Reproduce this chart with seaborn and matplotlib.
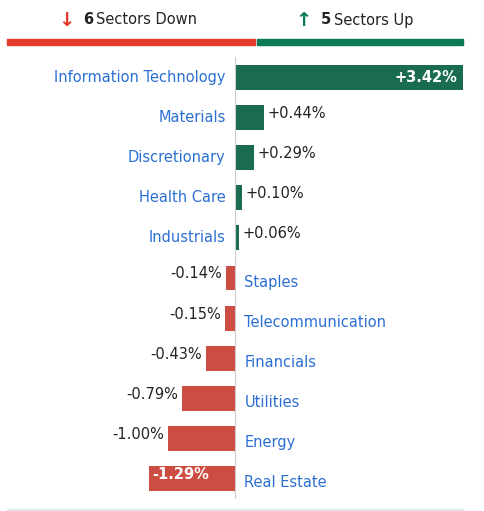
import matplotlib
matplotlib.use("Agg")
import matplotlib.pyplot as plt
import seaborn as sns
import pandas as pd
from matplotlib.patches import Rectangle

sectors = ["Information Technology", "Materials", "Discretionary", "Health Care", "Industrials",
           "Staples", "Telecommunication", "Financials", "Utilities", "Energy", "Real Estate"]
changes = [3.42, 0.44, 0.29, 0.10, 0.06, -0.14, -0.15, -0.43, -0.79, -1.00, -1.29]
down_count, up_count = 6, 5

GREEN = "#0b7a57"; RED = "#e4392b"; BLUE = "#2b6fd3"; DARK = "#222222"
df = pd.DataFrame({"sector": sectors, "change": changes})
df["c"] = ["up" if v > 0 else "down" for v in changes]

W, H = 484, 511
fig = plt.figure(figsize=(W/100, H/100), dpi=100)
ax = fig.add_axes([0, 1-499/H, 1, (499-57)/H])
sns.barplot(data=df, x="change", y="sector", hue="c", palette={"up": GREEN, "down": RED},
            orient="h", width=0.62, legend=False, ax=ax, dodge=False)
lim = 235/66.7
ax.set_xlim(-lim, (W-235)/66.7)
ax.set_ylim(10.5, -0.5)
ax.axis("off")
ax.axvline(0, color="#cccccc", lw=0.8, ymin=-0.02, ymax=1)

fs = 10.5
for i, (s, v) in enumerate(zip(sectors, changes)):
    lab = f"{v:+.2f}%"
    if v > 0:
        ax.text(-0.14, i, s, ha="right", va="center", color=BLUE, fontsize=fs)
        if v > 2:
            ax.text(v-0.08, i, lab, ha="right", va="center", color="white", fontsize=fs, fontweight="bold")
        else:
            ax.text(v+0.05, i-0.1, lab, ha="left", va="center", color=DARK, fontsize=fs)
    else:
        ax.text(0.14, i+0.1, s, ha="left", va="center", color=BLUE, fontsize=fs)
        if v < -1.1:
            ax.text(v+0.05, i-0.1, lab, ha="left", va="center", color="white", fontsize=fs, fontweight="bold")
        else:
            ax.text(v-0.06, i-0.1, lab, ha="right", va="center", color=DARK, fontsize=fs)

# header
fig.text(58/W, 1-20/H, "↓", color=RED, fontsize=14, fontweight="bold", va="center")
fig.text(83/W, 1-20/H, f"{down_count}", color=DARK, fontsize=fs, fontweight="bold", va="center")
fig.text(96/W, 1-20/H, "Sectors Down", color=DARK, fontsize=fs, va="center")
fig.text(295/W, 1-20/H, "↑", color=GREEN, fontsize=14, fontweight="bold", va="center")
fig.text(321/W, 1-20/H, f"{up_count}", color=DARK, fontsize=fs, fontweight="bold", va="center")
fig.text(334/W, 1-20/H, "Sectors Up", color=DARK, fontsize=fs, va="center")
fig.patches.append(Rectangle((7/W, 1-45/H), 248/W, 6/H, color=RED, transform=fig.transFigure))
fig.patches.append(Rectangle((257/W, 1-45/H), 206/W, 6/H, color=GREEN, transform=fig.transFigure))
fig.patches.append(Rectangle((7/W, 1-510/H), 456/W, 1/H, color="#e3e8f0", transform=fig.transFigure))
fig.savefig("out.png", dpi=100)
